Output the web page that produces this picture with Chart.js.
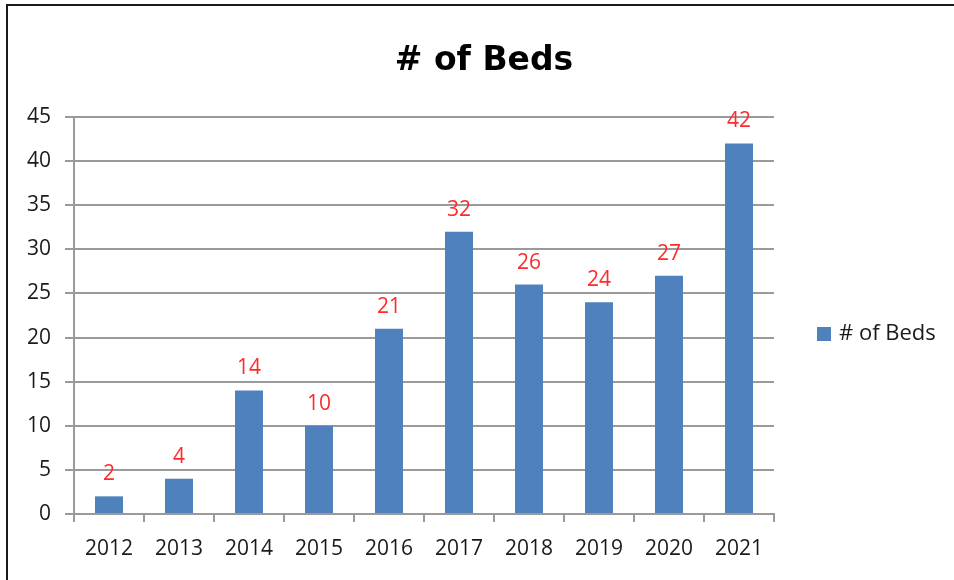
<!DOCTYPE html>
<html>
<head>
<meta charset="utf-8">
<script src="https://cdn.jsdelivr.net/npm/chart.js@4"></script>
<style>
    body { margin: 0; background: #fff; overflow: hidden; }
    #wrap { position: relative; width: 954px; height: 580px; }
    #frame {
        position: absolute; left: 6px; top: 4px; width: 960px; height: 600px;
        border-top: 2px solid #1a1a1a; border-left: 2px solid #1a1a1a;
        pointer-events: none;
    }
</style>
</head>
<body>
<div id="wrap">
    <canvas id="plot1" width="954" height="580"></canvas>
    <div id="frame"></div>
</div>
<script>
const years = ['2012', '2013', '2014', '2015', '2016', '2017', '2018', '2019', '2020', '2021'];
const beds = [2, 4, 14, 10, 21, 32, 26, 24, 27, 42];
const seriesName = '# of Beds';
const chartTitle = '# of Beds';

const barBlue = '#4F81BD';
const gridGray = '#9a9a9a';

// red numbers above each bar
const valueLabels = {
    id: 'valueLabels',
    afterDatasetsDraw(chart) {
        const ctx = chart.ctx;
        const meta = chart.getDatasetMeta(0);
        ctx.save();
        ctx.fillStyle = '#ff2a2a';
        ctx.font = '21px "Open Sans"';
        ctx.textAlign = 'center';
        ctx.textBaseline = 'alphabetic';
        meta.data.forEach((bar, i) => {
            ctx.fillText(beds[i], bar.x, bar.y - 16);
        });
        ctx.restore();
    }
};

// title centred on the whole frame + legend on the right
const titleAndLegend = {
    id: 'titleAndLegend',
    afterDraw(chart) {
        const ctx = chart.ctx;
        ctx.save();
        ctx.fillStyle = '#000';
        ctx.font = 'bold 33px "DejaVu Sans"';
        ctx.textAlign = 'center';
        ctx.textBaseline = 'alphabetic';
        ctx.fillText(chartTitle, 484, 70);

        ctx.fillStyle = barBlue;
        ctx.fillRect(817, 327, 14, 14);
        ctx.fillStyle = '#1a1a1a';
        ctx.font = '22px "Open Sans"';
        ctx.textBaseline = 'middle';
        ctx.textAlign = 'left';
        ctx.fillText(seriesName, 839, 334);
        ctx.restore();
    }
};

const plot1 = document.getElementById('plot1').getContext('2d');
new Chart(plot1, {
    type: 'bar',
    data: {
        labels: years,
        datasets: [
            {
                label: seriesName,
                data: beds,
                backgroundColor: barBlue,
                borderWidth: 0,
                barPercentage: 0.4,
                categoryPercentage: 1.0,
            }
        ]
    },
    options: {
        responsive: false,
        animation: false,
        layout: {
            padding: { left: 8, right: 180, top: 117, bottom: 0 }
        },
        scales: {
            x: {
                grid: {
                    display: true,
                    drawOnChartArea: false,
                    drawTicks: true,
                    tickLength: 8,
                    color: gridGray,
                    lineWidth: 2,
                },
                border: { color: gridGray, width: 2 },
                ticks: {
                    color: '#1a1a1a',
                    font: { family: 'Open Sans', size: 21 },
                    padding: 14,
                    maxRotation: 0,
                },
                afterFit: (scale) => { scale.height = 66; }
            },
            y: {
                min: 0,
                max: 45,
                grid: {
                    color: gridGray,
                    lineWidth: 2,
                    tickLength: 9,
                },
                border: { color: gridGray, width: 2 },
                ticks: {
                    stepSize: 5,
                    color: '#1a1a1a',
                    font: { family: 'Open Sans', size: 21 },
                    padding: 14,
                },
                afterFit: (scale) => { scale.width = 66; }
            }
        },
        plugins: {
            legend: { display: false },
            tooltip: { enabled: false },
            title: { display: false },
        },
    },
    plugins: [valueLabels, titleAndLegend]
});
</script>
</body>
</html>
